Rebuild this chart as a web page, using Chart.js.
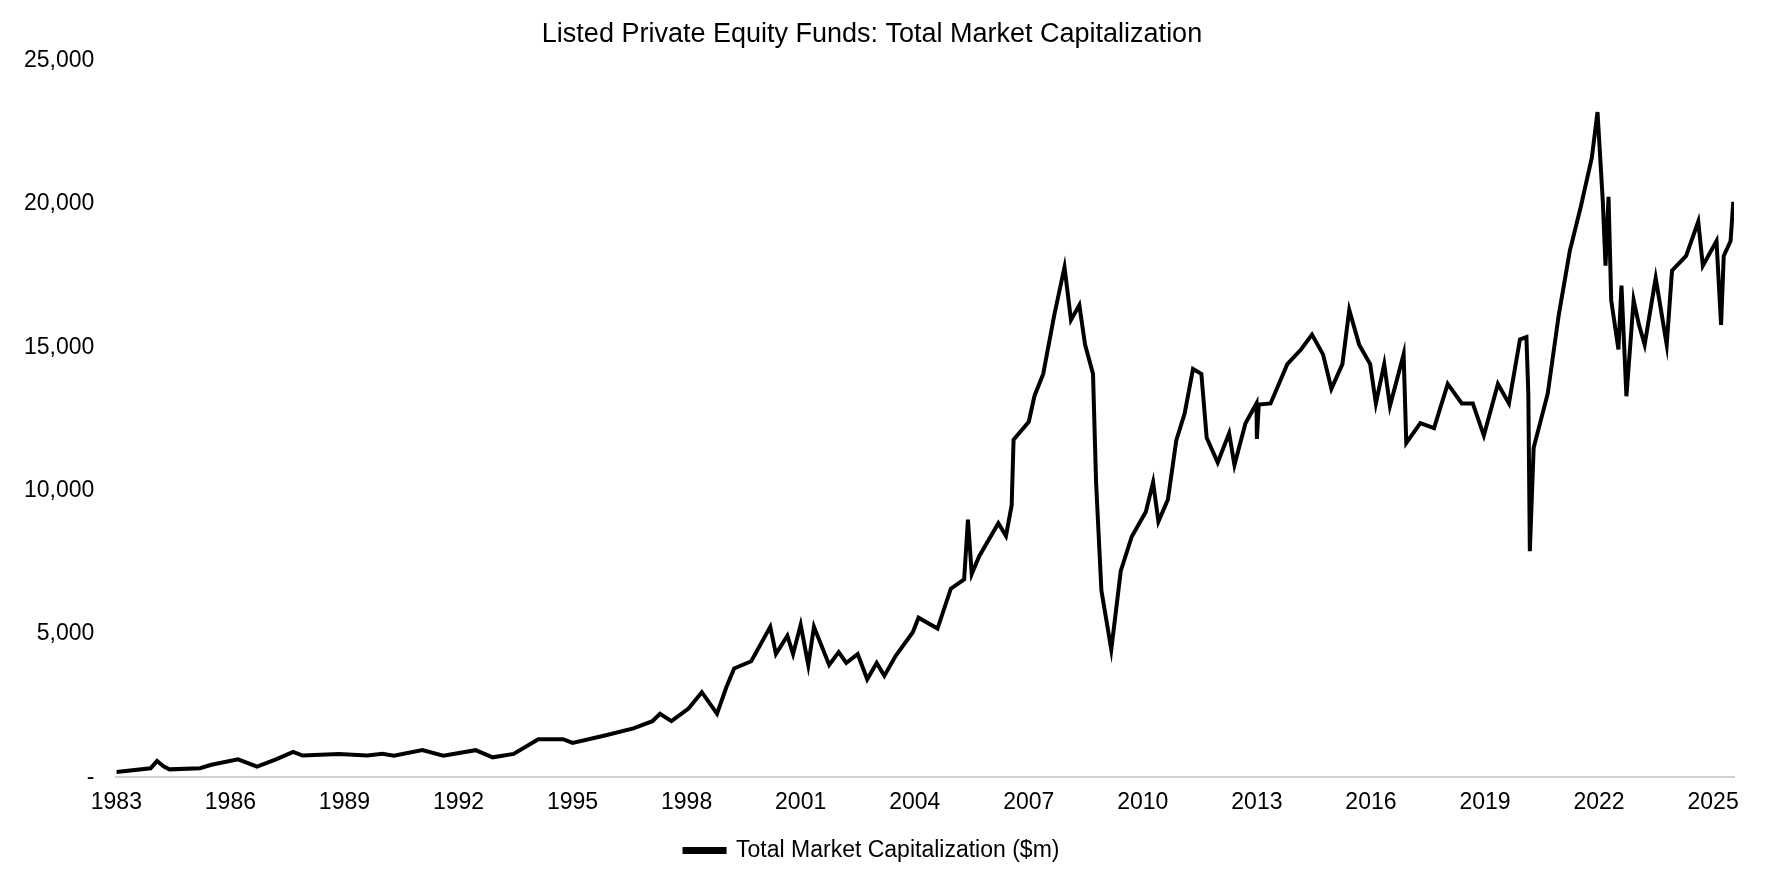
<!DOCTYPE html>
<html><head><meta charset="utf-8">
<script src="https://cdn.jsdelivr.net/npm/chart.js@4/dist/chart.umd.min.js"></script>
<style>html,body{margin:0;background:#fff}#w{width:1772px;height:886px}</style>
</head><body><div id="w"><canvas id="c"></canvas></div>
<script>
const years = [1983.0,1983.9,1984.07,1984.25,1984.4,1985.2,1985.5,1986.2,1986.7,1987.2,1987.65,1987.9,1988.85,1989.6,1990.0,1990.3,1991.05,1991.6,1992.45,1992.9,1993.45,1994.1,1994.75,1995.0,1995.85,1996.6,1997.1,1997.3,1997.6,1998.05,1998.4,1998.8,1999.05,1999.25,1999.7,2000.2,2000.35,2000.65,2000.8,2001.0,2001.2,2001.35,2001.75,2002.0,2002.2,2002.5,2002.75,2003.0,2003.2,2003.5,2003.95,2004.1,2004.6,2004.95,2005.3,2005.4,2005.5,2005.7,2006.2,2006.4,2006.55,2006.6,2007.0,2007.15,2007.38,2007.67,2007.94,2008.11,2008.33,2008.48,2008.69,2008.77,2008.91,2009.17,2009.42,2009.71,2010.08,2010.27,2010.41,2010.66,2010.88,2011.1,2011.32,2011.54,2011.68,2011.97,2012.27,2012.41,2012.7,2012.99,2013.0,2013.05,2013.36,2013.8,2014.16,2014.45,2014.74,2014.96,2015.25,2015.43,2015.69,2015.98,2016.13,2016.35,2016.5,2016.86,2016.93,2017.3,2017.66,2018.02,2018.39,2018.68,2018.97,2019.34,2019.63,2019.92,2020.09,2020.14,2020.18,2020.28,2020.65,2020.94,2021.23,2021.52,2021.81,2021.96,2022.1,2022.17,2022.25,2022.32,2022.51,2022.59,2022.72,2022.91,2023.05,2023.2,2023.49,2023.78,2023.92,2024.29,2024.61,2024.73,2025.09,2025.21,2025.28,2025.46,2025.53];
const marketCap = [190,320,570,380,280,320,440,630,380,630,890,760,820,760,820,760,950,760,950,700,820,1330,1330,1200,1460,1710,1960,2220,1960,2400,2970,2220,3160,3800,4050,5250,4300,4940,4300,5320,3920,5250,3920,4370,3990,4300,3420,3990,3540,4240,5060,5570,5190,6580,6900,8990,7090,7720,8860,8420,9490,11770,12400,13300,14070,16120,17790,15950,16470,15090,14070,10290,6520,4460,7200,8400,9260,10290,8920,9690,11750,12690,14240,14070,11840,10980,12000,10890,12350,13040,11800,13000,13040,14410,14920,15440,14750,13550,14410,16300,15090,14410,13040,14410,12950,14750,11660,12350,12180,13720,13040,13040,11920,13720,13040,15270,15350,13380,7890,11490,13380,16120,18350,19900,21610,23200,20070,17840,20240,16640,14920,17150,13290,16640,15780,15090,17410,15090,17670,18180,19380,17840,18700,15780,18180,18700,20070];
const xTicks = [1983,1986,1989,1992,1995,1998,2001,2004,2007,2010,2013,2016,2019,2022,2025];
const yTicks = [0,5000,10000,15000,20000,25000];
const seriesName = 'Total Market Capitalization ($m)';
const F = "'Liberation Sans', Arial, sans-serif";
new Chart(document.getElementById('c'), {
  type: 'line',
  data: { datasets: [{ label: seriesName, data: years.map((y,i)=>({x:y,y:marketCap[i]})),
    borderColor:'#000', backgroundColor:'#000', borderWidth:4, pointRadius:0, tension:0 }] },
  options: {
    responsive:true, maintainAspectRatio:false, animation:false,
    layout:{padding:{left:10,right:38,top:8,bottom:14}},
    plugins:{
      title:{display:true,text:'Listed Private Equity Funds: Total Market Capitalization',color:'#000',font:{family:F,size:27,weight:'normal'},padding:{top:10,bottom:10}},
      legend:{position:'bottom',labels:{color:'#000',font:{family:F,size:23},boxWidth:40,boxHeight:3,padding:20}},
      tooltip:{enabled:false}
    },
    scales:{
      x:{type:'linear',min:1983,max:2025.55,
        afterBuildTicks:(a)=>{a.ticks=xTicks.map(v=>({value:v}));},
        ticks:{color:'#000',font:{family:F,size:23},callback:v=>String(v),maxRotation:0,autoSkip:false},
        grid:{display:false,drawOnChartArea:false,drawTicks:true,tickLength:8,color:'#d0d0d0'},
        border:{display:true,color:'#d0d0d0',width:2}},
      y:{min:0,max:25000,
        afterBuildTicks:(a)=>{a.ticks=yTicks.map(v=>({value:v}));},
        ticks:{color:'#000',font:{family:F,size:23},padding:14,callback:v=>v===0?'-':v.toLocaleString('en-US')},
        grid:{display:false},border:{display:false}}
    }
  }
});
</script></body></html>
